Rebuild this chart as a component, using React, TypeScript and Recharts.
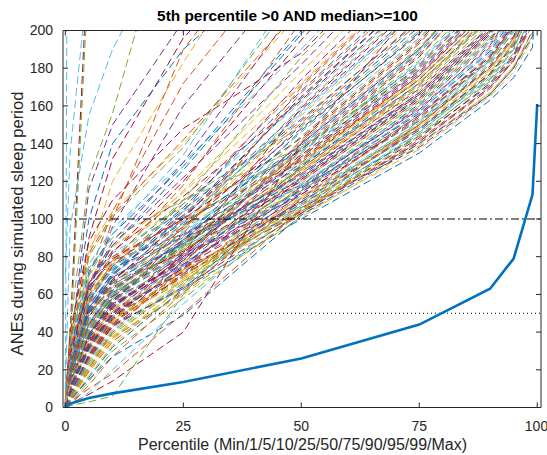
import { LineChart, Line, XAxis, YAxis, ReferenceLine } from 'recharts';

// percentile positions on the x axis (Min/1/5/10/25/50/75/90/95/99/Max)
const percentiles = [0, 1, 5, 10, 25, 50, 75, 90, 95, 99, 100];
const xTicks = [0, 25, 50, 75, 100];
const yTicks = [0, 20, 40, 60, 80, 100, 120, 140, 160, 180, 200];
const xDomain = [-0.5, 100.8];
const yDomain = [0, 200];

// thick solid blue curve
const highlightCurve = [0, 2, 5, 7.5, 13.5, 26, 44, 63, 79, 113, 161];

// curves that leave the top of the plot early
const steepCurves = [
  [2, 640, 820, 900, 980, 1050, 1120, 1180, 1220, 1300, 1400],
  [70, 135, 232, 280, 340, 400, 460, 510, 540, 600, 680],
  [0, 40, 250, 300, 360, 420, 480, 520, 560, 620, 700],
  [0, 30, 235, 290, 350, 410, 470, 515, 550, 610, 690],
  [10, 95, 155, 190, 262, 340, 410, 470, 510, 570, 640],
  [0, 42, 122, 156, 288, 370, 430, 480, 520, 580, 650],
  [0, 30, 116, 150, 205, 290, 360, 410, 450, 510, 570],
  [0, 20, 80, 120, 183, 280, 350, 400, 440, 500, 560],
  [1, 26, 90, 132, 196, 262, 330, 380, 420, 480, 540],
  [0, 18, 70, 104, 172, 250, 320, 370, 410, 470, 530],
  [0, 14, 60, 100, 190, 270, 340, 390, 430, 490, 560],
  [0, 15, 62, 96, 160, 236, 300, 350, 390, 450, 520],
  [2, 35, 100, 140, 190, 245, 310, 360, 400, 460, 530],
];
const steepColors = ['#4DBEEE', '#4DBEEE', '#A2142F', '#77AC30', '#4DBEEE', '#77AC30', '#7E2F8E',
  '#EDB120', '#A2142F', '#D95319', '#D95319', '#7E2F8E', '#0072BD'];

// main bundle of curves
const bandCurves = [
  [0, 6, 28, 44, 63, 100, 135, 163, 175, 191, 236],
  [1, 9, 33, 49, 69, 104, 141, 169, 184, 203, 255],
  [0, 4, 22, 38, 60, 101, 139, 167, 181, 197, 228],
  [2, 13, 39, 55, 75, 109, 147, 177, 193, 215, 282],
  [0, 8, 31, 47, 67, 105, 145, 173, 188, 209, 248],
  [1, 15, 41, 57, 77, 111, 151, 183, 199, 224, 293],
  [0, 5, 26, 43, 71, 113, 153, 185, 203, 231, 297],
  [3, 16, 45, 61, 81, 115, 157, 189, 207, 241, 312],
  [0, 10, 35, 51, 73, 117, 159, 191, 211, 237, 279],
  [0, 3, 20, 36, 64, 107, 151, 179, 195, 219, 262],
  [1, 21, 52, 66, 82, 106, 138, 166, 180, 200, 244],
  [0, 2, 14, 30, 58, 103, 146, 176, 194, 222, 270],
  [2, 24, 55, 70, 86, 112, 148, 174, 190, 214, 268],
  [0, 7, 27, 45, 70, 110, 150, 181, 197, 226, 288],
  [1, 12, 37, 52, 72, 108, 144, 171, 186, 206, 251],
  [0, 1, 12, 27, 61, 114, 160, 194, 214, 244, 301],
  [0, 9, 30, 46, 68, 102, 137, 165, 178, 196, 232],
  [3, 18, 44, 58, 76, 116, 156, 186, 204, 233, 305],
  [0, 6, 24, 40, 66, 118, 162, 196, 218, 254, 320],
  [1, 14, 40, 56, 79, 119, 158, 190, 209, 239, 296],
  [0, 11, 34, 50, 74, 104, 143, 172, 187, 208, 262],
  [2, 27, 60, 74, 90, 117, 152, 180, 196, 221, 285],
  [0, 4, 19, 35, 62, 111, 155, 187, 205, 235, 300],
  [0, 8, 29, 45, 69, 106, 149, 178, 193, 218, 270],
  [1, 16, 43, 59, 80, 113, 154, 184, 201, 228, 290],
  [0, 5, 23, 39, 65, 109, 150, 182, 200, 230, 278],
  [0, 12, 36, 53, 75, 115, 157, 188, 206, 236, 310],
  [2, 20, 50, 64, 83, 120, 163, 198, 219, 252, 325],
  [0, 3, 16, 32, 63, 116, 161, 195, 215, 246, 314],
  [1, 10, 32, 48, 71, 103, 142, 170, 185, 205, 258],
  [0, 7, 25, 42, 67, 112, 153, 184, 202, 232, 292],
  [4, 30, 64, 78, 92, 118, 158, 192, 212, 242, 330],
  [0, 9, 31, 47, 70, 107, 148, 176, 191, 212, 266],
  [1, 17, 47, 63, 85, 122, 164, 197, 217, 251, 328],
  [0, 11, 36, 54, 79, 125, 169, 202, 224, 262, 338],
  [2, 19, 49, 65, 87, 121, 165, 199, 221, 257, 318],
  [1, 12, 41, 59, 83, 127, 171, 206, 229, 269, 352],
  [0, 7, 30, 48, 77, 129, 175, 210, 233, 277, 361],
  [4, 21, 53, 69, 91, 131, 177, 213, 239, 285, 368],
  [0, 13, 38, 56, 85, 133, 180, 217, 243, 291, 382],
  [1, 18, 46, 66, 93, 135, 183, 221, 249, 299, 388],
  [0, 8, 32, 50, 81, 137, 186, 227, 253, 305, 402],
  [2, 23, 57, 73, 97, 139, 188, 229, 259, 311, 408],
  [0, 15, 44, 62, 88, 124, 166, 200, 222, 260, 340],
  [1, 26, 62, 78, 100, 132, 174, 208, 230, 268, 350],
  [0, 5, 25, 44, 78, 140, 190, 232, 262, 320, 420],
  [0, 14, 42, 60, 86, 126, 170, 204, 227, 265, 345],
  [3, 29, 66, 82, 104, 136, 178, 214, 238, 280, 370],
  [0, 10, 34, 53, 82, 130, 176, 212, 236, 282, 375],
  [1, 20, 51, 68, 92, 128, 172, 207, 231, 272, 356],
  [0, 6, 27, 46, 80, 138, 187, 226, 252, 302, 396],
  [2, 32, 70, 86, 106, 134, 173, 205, 226, 262, 342],
  [0, 16, 45, 63, 89, 123, 167, 201, 223, 259, 336],
  [1, 9, 33, 52, 84, 141, 191, 231, 258, 312, 410],
  [0, 22, 55, 71, 95, 129, 171, 206, 229, 270, 355],
  [0, 12, 39, 57, 86, 134, 181, 219, 245, 294, 386],
  [2, 25, 59, 75, 98, 137, 182, 220, 246, 295, 390],
  [0, 4, 21, 40, 76, 142, 193, 235, 264, 322, 425],
  [1, 18, 48, 66, 90, 126, 168, 203, 226, 264, 348],
  [0, 14, 41, 59, 87, 132, 178, 215, 240, 286, 378],
  [3, 35, 74, 90, 110, 138, 180, 216, 240, 284, 372],
  [0, 14, 43, 61, 91, 146, 196, 238, 268, 326, 430],
  [1, 19, 50, 68, 96, 148, 198, 240, 270, 330, 435],
  [0, 11, 37, 56, 89, 150, 202, 246, 278, 340, 450],
  [3, 24, 60, 76, 102, 152, 206, 250, 282, 346, 460],
  [0, 15, 45, 64, 95, 155, 209, 254, 288, 354, 470],
  [1, 20, 54, 71, 101, 158, 212, 258, 292, 360, 480],
  [0, 13, 40, 60, 94, 160, 216, 262, 298, 368, 490],
  [2, 26, 62, 80, 108, 162, 218, 266, 302, 374, 500],
  [0, 16, 48, 67, 100, 165, 222, 270, 308, 382, 510],
  [1, 21, 57, 75, 106, 168, 226, 275, 312, 388, 515],
  [0, 9, 35, 55, 92, 170, 230, 280, 318, 395, 520],
  [2, 30, 68, 85, 114, 172, 232, 282, 320, 398, 525],
  [0, 17, 50, 70, 104, 174, 236, 288, 326, 405, 535],
  [1, 23, 58, 77, 110, 149, 200, 243, 275, 336, 440],
  [0, 12, 41, 62, 98, 157, 211, 256, 290, 356, 472],
  [2, 28, 66, 83, 112, 163, 219, 267, 303, 376, 498],
  [0, 18, 52, 72, 105, 153, 205, 249, 281, 345, 455],
  [1, 10, 38, 58, 96, 167, 224, 273, 310, 385, 508],
  [0, 20, 58, 78, 115, 178, 240, 292, 330, 410, 540],
  [1, 27, 66, 86, 122, 182, 246, 298, 338, 420, 555],
  [0, 15, 48, 70, 110, 186, 250, 304, 344, 428, 565],
  [2, 33, 76, 95, 130, 190, 256, 310, 352, 436, 575],
  [0, 22, 61, 82, 120, 195, 262, 318, 360, 446, 590],
  [1, 30, 72, 92, 128, 200, 268, 325, 368, 456, 600],
  [0, 18, 55, 77, 118, 205, 275, 334, 378, 468, 615],
  [3, 38, 84, 104, 140, 210, 282, 342, 386, 478, 630],
  [0, 25, 66, 88, 130, 216, 290, 352, 398, 492, 650],
  [1, 34, 80, 101, 138, 222, 298, 360, 408, 505, 665],
  [0, 28, 70, 92, 134, 228, 305, 370, 418, 518, 680],
  [2, 40, 88, 110, 148, 188, 252, 306, 346, 430, 570],
  [0, 24, 64, 86, 126, 198, 266, 322, 364, 452, 595],
  [1, 36, 82, 102, 142, 212, 285, 346, 390, 484, 640],
  [0, 7, 29, 46, 72, 111, 149, 178, 194, 220, 275],
  [1, 13, 38, 54, 76, 114, 155, 186, 203, 229, 292],
  [0, 5, 21, 37, 61, 104, 144, 174, 190, 214, 262],
  [2, 17, 44, 60, 81, 118, 160, 193, 212, 244, 314],
  [0, 9, 32, 49, 74, 121, 164, 199, 220, 256, 330],
  [1, 22, 53, 67, 87, 124, 167, 202, 224, 262, 338],
  [0, 6, 26, 44, 73, 127, 172, 208, 231, 274, 358],
  [3, 26, 61, 76, 96, 130, 174, 211, 236, 280, 366],
  [0, 10, 35, 53, 80, 133, 179, 216, 242, 288, 380],
  [1, 15, 42, 60, 86, 136, 184, 223, 250, 298, 392],
  [0, 8, 30, 48, 79, 139, 189, 229, 257, 310, 405],
  [2, 28, 64, 79, 100, 143, 194, 236, 266, 324, 425],
  [0, 12, 38, 57, 88, 147, 199, 242, 274, 334, 440],
  [1, 18, 48, 66, 95, 151, 204, 248, 281, 344, 455],
  [0, 4, 20, 37, 68, 120, 163, 196, 216, 250, 320],
  [0, 11, 33, 50, 72, 109, 148, 177, 192, 217, 268],
  [2, 20, 49, 64, 84, 115, 155, 185, 202, 230, 298],
  [0, 6, 25, 41, 66, 106, 146, 175, 190, 213, 264],
  [1, 14, 39, 55, 78, 122, 166, 200, 221, 258, 332],
  [0, 9, 31, 48, 75, 128, 174, 210, 233, 277, 362],
  [3, 31, 66, 80, 99, 131, 176, 213, 238, 283, 372],
  [0, 3, 17, 33, 65, 125, 171, 207, 230, 272, 355],
  [1, 16, 44, 62, 89, 140, 190, 231, 259, 314, 412],
  [0, 13, 40, 58, 87, 144, 195, 238, 268, 326, 430],
  [2, 24, 58, 74, 99, 156, 211, 257, 291, 358, 475],
  [0, 7, 28, 47, 82, 159, 215, 262, 298, 368, 488],
  [1, 19, 52, 70, 102, 164, 222, 270, 308, 380, 505],
  [0, 21, 56, 75, 108, 171, 231, 281, 319, 396, 525],
  [2, 12, 36, 52, 73, 105, 140, 167, 181, 199, 242],
  [0, 8, 27, 43, 64, 103, 141, 170, 184, 205, 256],
];

// a few curves that stay below the bundle
const lowCurves = [
  [0, 2, 7, 14, 40, 140, 215, 260, 290, 340, 420],
  [0, 1, 3, 6, 60, 128, 190, 230, 260, 310, 380],
  [0, 4, 15, 27, 49, 102, 140, 166, 180, 197, 240],
  [0, 3, 10, 18, 50, 105, 150, 180, 196, 225, 280],
  [0, 1, 8, 20, 55, 108, 152, 184, 202, 232, 290],
];
const lowColors = ['#A2142F', '#77AC30', '#0072BD', '#D95319', '#4DBEEE'];

const palette = ['#0072BD', '#D95319', '#EDB120', '#7E2F8E', '#77AC30', '#4DBEEE', '#A2142F'];

const allCurves = [...steepCurves, ...bandCurves, ...lowCurves];
const curveColors = [...steepColors, ...bandCurves.map((_, i) => palette[i % 7]), ...lowColors];

const chartData = percentiles.map((p, i) => {
  const row: Record<string, number> = { p, main: highlightCurve[i] };
  allCurves.forEach((c, k) => {
    row['c' + k] = c[i];
  });
  return row;
});

const font = '"Liberation Sans", Arial, Helvetica, sans-serif';
const axisColor = '#262626';

// plot box (matches the chart margins and axis sizes below)
const box = { left: 63, top: 30.5, width: 478, height: 377 };
const toPx = (v: number) => box.left + ((v - xDomain[0]) / (xDomain[1] - xDomain[0])) * box.width;
const toPy = (v: number) => box.top + box.height - ((v - yDomain[0]) / (yDomain[1] - yDomain[0])) * box.height;

const App = () => {
  return (
    <div style={{ position: 'absolute', left: 0, top: 0, width: 547, height: 455, background: '#fff' }}>
      <LineChart
        width={547}
        height={455}
        data={chartData}
        margin={{ top: box.top, right: 547 - box.left - box.width, bottom: 0, left: 0 }}
        style={{ fontFamily: font }}
      >
        <XAxis
          dataKey="p"
          type="number"
          domain={xDomain}
          ticks={xTicks}
          allowDataOverflow
          height={455 - box.top - box.height}
          tickSize={-5}
          tickMargin={19}
          stroke={axisColor}
          tick={{ fontSize: 14, fill: axisColor }}
        />
        <YAxis
          type="number"
          domain={yDomain}
          ticks={yTicks}
          allowDataOverflow
          width={box.left}
          tickSize={-5}
          tickMargin={15}
          stroke={axisColor}
          tick={{ fontSize: 14, fill: axisColor }}
        />
        {allCurves.map((_, k) => (
          <Line
            key={k}
            dataKey={'c' + k}
            type="linear"
            stroke={curveColors[k]}
            strokeWidth={1}
            strokeDasharray="8 4"
            dot={false}
            activeDot={false}
            isAnimationActive={false}
          />
        ))}
        <ReferenceLine y={100} stroke="#000" strokeWidth={1} strokeDasharray="8 3 2 3" />
        <ReferenceLine y={50} stroke="#000" strokeWidth={1} strokeDasharray="1 3" />
        <Line
          dataKey="main"
          type="linear"
          stroke="#0072BD"
          strokeWidth={2.6}
          dot={false}
          activeDot={false}
          isAnimationActive={false}
        />
      </LineChart>
      <svg
        width={547}
        height={455}
        style={{ position: 'absolute', left: 0, top: 0, pointerEvents: 'none' }}
      >
        {/* top and right edges of the axes box, ticks pointing inward */}
        <line x1={box.left} x2={box.left + box.width} y1={box.top} y2={box.top} stroke={axisColor} />
        <line
          x1={box.left + box.width}
          x2={box.left + box.width}
          y1={box.top}
          y2={box.top + box.height}
          stroke={axisColor}
        />
        {xTicks.map((t) => (
          <line key={'tx' + t} x1={toPx(t)} x2={toPx(t)} y1={box.top} y2={box.top + 5} stroke={axisColor} />
        ))}
        {yTicks.map((t) => (
          <line
            key={'ty' + t}
            x1={box.left + box.width - 5}
            x2={box.left + box.width}
            y1={toPy(t)}
            y2={toPy(t)}
            stroke={axisColor}
          />
        ))}
        <text x={287.5} y={21} textAnchor="middle" fontFamily={font} fontWeight="bold" fontSize={15.4} fill="#000">
          5th percentile &gt;0 AND median&gt;=100
        </text>
        <text x={302.5} y={450} textAnchor="middle" fontFamily={font} fontSize={16} fill={axisColor}>
          Percentile (Min/1/5/10/25/50/75/90/95/99/Max)
        </text>
        <text
          transform="translate(22.5,223.5) rotate(-90)"
          textAnchor="middle"
          fontFamily={font}
          fontSize={16.6}
          fill={axisColor}
        >
          ANEs during simulated sleep period
        </text>
      </svg>
    </div>
  );
};

export default App;
